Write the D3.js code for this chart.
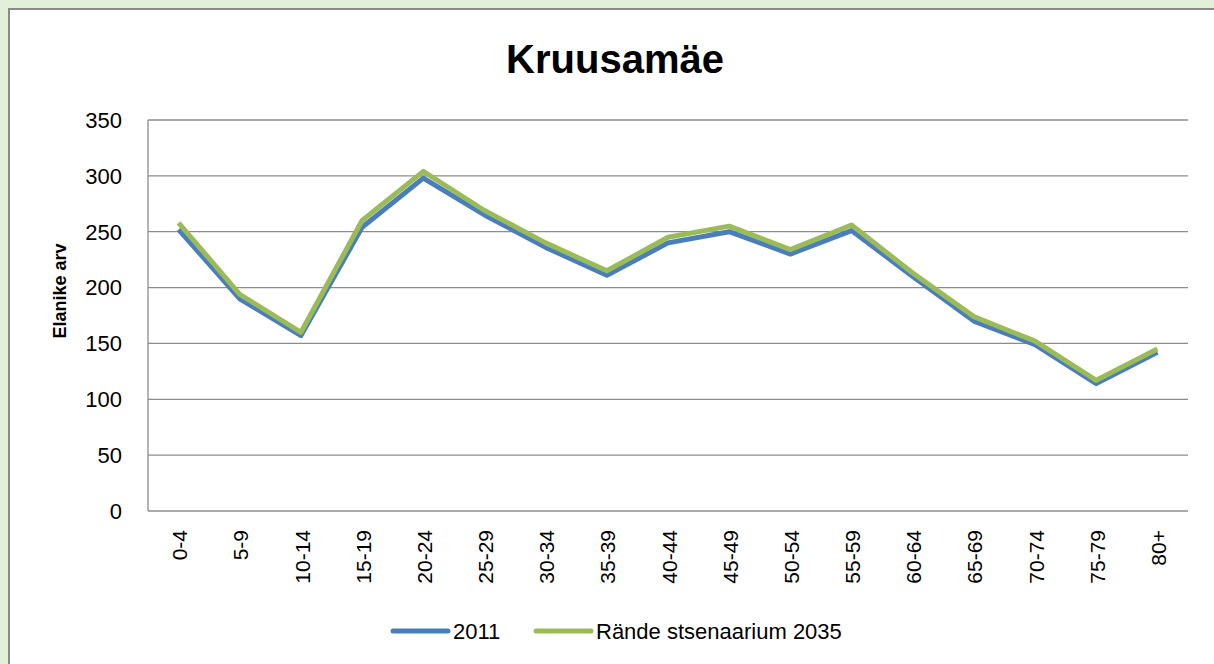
<!DOCTYPE html>
<html>
<head>
<meta charset="utf-8">
<script src="https://cdn.jsdelivr.net/npm/d3@7"></script>
<style>
    html, body { margin: 0; padding: 0; background: #e2efd9; }
    svg { display: block; font-family: "Liberation Sans", Arial, sans-serif; }
</style>
</head>
<body>
<svg id="chart" width="1214" height="664"></svg>
<script>
const categories = ["0-4", "5-9", "10-14", "15-19", "20-24", "25-29", "30-34", "35-39", "40-44",
    "45-49", "50-54", "55-59", "60-64", "65-69", "70-74", "75-79", "80+"];
const values2011 = [252, 190, 157, 254, 298, 265, 236, 211, 240, 250, 230, 251, 210, 170, 149, 114, 142];
const values2035 = [258, 194, 160, 260, 304, 269, 240, 215, 245, 255, 234, 256, 213, 174, 152, 117, 145];
const yTicks = [0, 50, 100, 150, 200, 250, 300, 350];
const seriesNames = ["2011", "Rände stsenaarium 2035"];
const seriesColors = ["#4a7ebb", "#9bbb59"];

const margin = {left: 148, top: 120, right: 26, bottom: 153};
const width = 1214 - margin.left - margin.right;
const height = 664 - margin.top - margin.bottom;

const svg = d3.select("#chart");

// frame
svg.append("rect")
    .attr("x", 9).attr("y", 9)
    .attr("width", 1214).attr("height", 664)
    .style("fill", "white")
    .style("stroke", "#8a8a8a")
    .style("stroke-width", 2);

const x = d3.scaleBand().domain(categories).range([0, width]).padding(0);
const y = d3.scaleLinear().domain([0, 350]).range([height, 0]);

const g = svg.append("g")
    .attr("transform", `translate(${margin.left}, ${margin.top})`);

// gridlines
g.selectAll(".grid")
    .data(yTicks)
    .enter()
    .append("line")
    .attr("x1", 0)
    .attr("x2", width)
    .attr("y1", d => y(d))
    .attr("y2", d => y(d))
    .style("stroke", "#8c8c8c")
    .style("stroke-width", 1.3);

// y axis line
g.append("line")
    .attr("x1", 0).attr("x2", 0)
    .attr("y1", 0).attr("y2", height)
    .style("stroke", "#8c8c8c")
    .style("stroke-width", 1.3);

// y tick labels
g.selectAll(".ylab")
    .data(yTicks)
    .enter()
    .append("text")
    .attr("x", -26)
    .attr("y", d => y(d))
    .attr("dy", "0.36em")
    .style("text-anchor", "end")
    .style("font-size", "22px")
    .text(d => d);

// x tick labels
g.selectAll(".xlab")
    .data(categories)
    .enter()
    .append("text")
    .attr("transform", d => `translate(${x(d) + x.bandwidth() / 2 + 1}, ${height + 19}) rotate(-90)`)
    .attr("dy", "0.36em")
    .style("text-anchor", "end")
    .style("font-size", "21px")
    .text(d => d);

// lines
const line = d3.line()
    .x((d, i) => x(categories[i]) + x.bandwidth() / 2)
    .y(d => y(d));

[values2011, values2035].forEach(function (values, i) {
    g.append("path")
        .datum(values)
        .attr("d", line)
        .style("fill", "none")
        .style("stroke", seriesColors[i])
        .style("stroke-width", 5)
        .style("stroke-linejoin", "round");
});

// y axis title
svg.append("text")
    .attr("transform", `translate(66, 291) rotate(-90)`)
    .style("text-anchor", "middle")
    .style("font-weight", "bold")
    .style("font-size", "18px")
    .text("Elanike arv");

// Title
svg.append("text")
    .attr("x", 615)
    .attr("y", 73)
    .style("text-anchor", "middle")
    .style("font-weight", "bold")
    .style("font-size", "40px")
    .text("Kruusamäe");

// Legend
const legendX = [393, 536];
seriesNames.forEach(function (name, i) {
    svg.append("line")
        .attr("x1", legendX[i]).attr("x2", legendX[i] + 55)
        .attr("y1", 631).attr("y2", 631)
        .style("stroke", seriesColors[i])
        .style("stroke-width", 5)
        .style("stroke-linecap", "round");
    svg.append("text")
        .attr("x", legendX[i] + 60)
        .attr("y", 639)
        .style("font-size", "22px")
        .text(name);
});
</script>
</body>
</html>
